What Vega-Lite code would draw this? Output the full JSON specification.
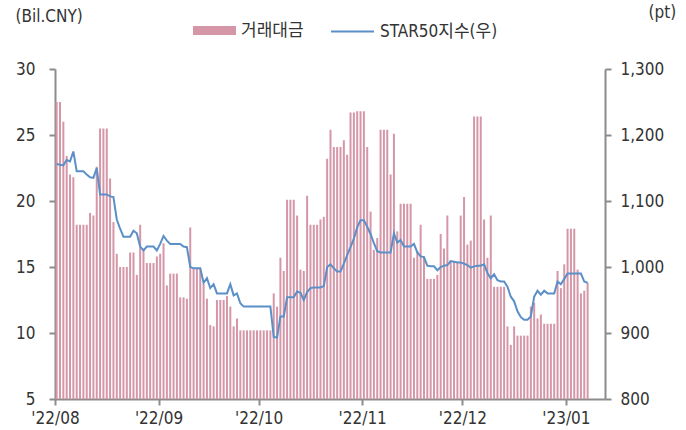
{
"$schema": "https://vega.github.io/schema/vega-lite/v6.json",
"width": 550, "height": 330,
"autosize": {"type": "none"},
"padding": {"left": 55, "top": 69, "right": 81, "bottom": 31},
"background": "white",
"config": {
  "view": {"stroke": null},
  "font": "DejaVu Sans Condensed, Liberation Sans Narrow, Noto Sans CJK KR, sans-serif",
  "axis": {"domainColor": "#8c8c8c", "domainWidth": 2, "tickColor": "#8c8c8c", "tickWidth": 2, "tickSize": 6, "labelColor": "#333333", "labelFontSize": 17, "grid": false, "titleFontWeight": "normal", "titleFontSize": 17, "titleColor": "#333333", "labelFont": "DejaVu Sans Condensed, Liberation Sans Narrow, Noto Sans CJK KR, sans-serif", "titleFont": "DejaVu Sans Condensed, Liberation Sans Narrow, Noto Sans CJK KR, sans-serif"},
  "legend": {"labelFont": "DejaVu Sans Condensed, Liberation Sans Narrow, Noto Sans CJK KR, sans-serif", "labelFontSize": 17, "labelColor": "#333333"}
},
"data": {"values": [
{"d":"2022-08-01T12:00","a":27.5,"s":1156},{"d":"2022-08-02T12:00","a":27.5,"s":1155},{"d":"2022-08-03T12:00","a":26.0,"s":1154},{"d":"2022-08-04T12:00","a":23.4,"s":1162},{"d":"2022-08-05T12:00","a":22.0,"s":1160},{"d":"2022-08-06T12:00","a":21.8,"s":1175},{"d":"2022-08-07T12:00","a":18.2,"s":1145},{"d":"2022-08-08T12:00","a":18.2,"s":1145},{"d":"2022-08-09T12:00","a":18.2,"s":1145},{"d":"2022-08-10T12:00","a":18.2,"s":1140},
{"d":"2022-08-11T12:00","a":19.1,"s":1136},{"d":"2022-08-12T12:00","a":18.9,"s":1135},{"d":"2022-08-13T12:00","a":22.6,"s":1150},{"d":"2022-08-14T12:00","a":25.5,"s":1110},{"d":"2022-08-15T12:00","a":25.5,"s":1110},{"d":"2022-08-16T12:00","a":25.5,"s":1110},{"d":"2022-08-17T12:00","a":21.7,"s":1107},{"d":"2022-08-18T12:00","a":18.4,"s":1106},{"d":"2022-08-19T12:00","a":16.0,"s":1072},{"d":"2022-08-20T12:00","a":15.0,"s":1058},
{"d":"2022-08-21T12:00","a":15.0,"s":1046},{"d":"2022-08-22T12:00","a":15.0,"s":1046},{"d":"2022-08-23T12:00","a":16.1,"s":1046},{"d":"2022-08-24T12:00","a":16.1,"s":1055},{"d":"2022-08-25T12:00","a":14.4,"s":1051},{"d":"2022-08-26T12:00","a":18.2,"s":1031},{"d":"2022-08-27T12:00","a":16.4,"s":1025},{"d":"2022-08-28T12:00","a":15.3,"s":1031},{"d":"2022-08-29T12:00","a":15.3,"s":1031},{"d":"2022-08-30T12:00","a":15.3,"s":1031},
{"d":"2022-08-31T12:00","a":15.8,"s":1025},{"d":"2022-09-01T12:00","a":16.0,"s":1035},{"d":"2022-09-02T12:00","a":16.8,"s":1047},{"d":"2022-09-03T12:00","a":13.6,"s":1040},{"d":"2022-09-04T12:00","a":14.5,"s":1035},{"d":"2022-09-05T12:00","a":14.5,"s":1035},{"d":"2022-09-06T12:00","a":14.5,"s":1035},{"d":"2022-09-07T12:00","a":12.7,"s":1035},{"d":"2022-09-08T12:00","a":12.7,"s":1031},{"d":"2022-09-09T12:00","a":12.6,"s":1030},
{"d":"2022-09-10T12:00","a":18.0,"s":1000},{"d":"2022-09-11T12:00","a":14.9,"s":998},{"d":"2022-09-12T12:00","a":14.9,"s":998},{"d":"2022-09-13T12:00","a":14.9,"s":998},{"d":"2022-09-14T12:00","a":13.7,"s":976},{"d":"2022-09-15T12:00","a":12.6,"s":983},{"d":"2022-09-16T12:00","a":10.6,"s":968},{"d":"2022-09-17T12:00","a":10.5,"s":974},{"d":"2022-09-18T12:00","a":12.5,"s":960},{"d":"2022-09-19T12:00","a":12.5,"s":960},
{"d":"2022-09-20T12:00","a":12.5,"s":960},{"d":"2022-09-21T12:00","a":12.8,"s":960},{"d":"2022-09-22T12:00","a":12.0,"s":974},{"d":"2022-09-23T12:00","a":10.5,"s":957},{"d":"2022-09-24T12:00","a":11.1,"s":960},{"d":"2022-09-25T12:00","a":10.2,"s":945},{"d":"2022-09-26T12:00","a":10.2,"s":940},{"d":"2022-09-27T12:00","a":10.2,"s":940},{"d":"2022-09-28T12:00","a":10.2,"s":940},{"d":"2022-09-29T12:00","a":10.2,"s":940},
{"d":"2022-09-30T12:00","a":10.2,"s":940},{"d":"2022-10-01T12:00","a":10.2,"s":940},{"d":"2022-10-02T12:00","a":10.2,"s":940},{"d":"2022-10-03T12:00","a":10.2,"s":940},{"d":"2022-10-04T12:00","a":10.2,"s":940},{"d":"2022-10-05T12:00","a":13.0,"s":894},{"d":"2022-10-06T12:00","a":12.0,"s":893},{"d":"2022-10-07T12:00","a":15.7,"s":925},{"d":"2022-10-08T12:00","a":14.7,"s":925},{"d":"2022-10-09T12:00","a":20.1,"s":954},
{"d":"2022-10-10T12:00","a":20.1,"s":954},{"d":"2022-10-11T12:00","a":20.1,"s":954},{"d":"2022-10-12T12:00","a":18.9,"s":963},{"d":"2022-10-13T12:00","a":14.8,"s":961},{"d":"2022-10-14T12:00","a":14.7,"s":950},{"d":"2022-10-15T12:00","a":20.4,"s":962},{"d":"2022-10-16T12:00","a":18.2,"s":968},{"d":"2022-10-17T12:00","a":18.2,"s":969},{"d":"2022-10-18T12:00","a":18.2,"s":969},{"d":"2022-10-19T12:00","a":18.6,"s":969},
{"d":"2022-10-20T12:00","a":18.8,"s":971},{"d":"2022-10-21T12:00","a":23.2,"s":1000},{"d":"2022-10-22T12:00","a":25.4,"s":1004},{"d":"2022-10-23T12:00","a":24.1,"s":998},{"d":"2022-10-24T12:00","a":24.1,"s":993},{"d":"2022-10-25T12:00","a":24.1,"s":993},{"d":"2022-10-26T12:00","a":24.6,"s":1005},{"d":"2022-10-27T12:00","a":23.5,"s":1018},{"d":"2022-10-28T12:00","a":26.7,"s":1030},{"d":"2022-10-29T12:00","a":26.7,"s":1043},
{"d":"2022-10-30T12:00","a":26.8,"s":1060},{"d":"2022-10-31T12:00","a":26.8,"s":1071},{"d":"2022-11-01T12:00","a":26.8,"s":1071},{"d":"2022-11-02T12:00","a":24.1,"s":1061},{"d":"2022-11-03T12:00","a":19.2,"s":1050},{"d":"2022-11-04T12:00","a":16.3,"s":1036},{"d":"2022-11-05T12:00","a":17.2,"s":1024},{"d":"2022-11-06T12:00","a":25.4,"s":1022},{"d":"2022-11-07T12:00","a":25.4,"s":1022},{"d":"2022-11-08T12:00","a":25.4,"s":1022},
{"d":"2022-11-09T12:00","a":22.0,"s":1022},{"d":"2022-11-10T12:00","a":25.1,"s":1051},{"d":"2022-11-11T12:00","a":17.7,"s":1037},{"d":"2022-11-12T12:00","a":19.8,"s":1041},{"d":"2022-11-13T12:00","a":19.8,"s":1031},{"d":"2022-11-14T12:00","a":19.8,"s":1031},{"d":"2022-11-15T12:00","a":19.8,"s":1031},{"d":"2022-11-16T12:00","a":15.7,"s":1035},{"d":"2022-11-17T12:00","a":16.2,"s":1022},{"d":"2022-11-18T12:00","a":18.2,"s":1016},
{"d":"2022-11-19T12:00","a":15.8,"s":1015},{"d":"2022-11-20T12:00","a":14.1,"s":1002},{"d":"2022-11-21T12:00","a":14.1,"s":1001},{"d":"2022-11-22T12:00","a":14.1,"s":1001},{"d":"2022-11-23T12:00","a":14.4,"s":995},{"d":"2022-11-24T12:00","a":17.5,"s":1000},{"d":"2022-11-25T12:00","a":16.4,"s":1002},{"d":"2022-11-26T12:00","a":18.9,"s":1003},{"d":"2022-11-27T12:00","a":15.4,"s":1009},{"d":"2022-11-28T12:00","a":15.4,"s":1008},
{"d":"2022-11-29T12:00","a":15.4,"s":1007},{"d":"2022-11-30T12:00","a":18.9,"s":1007},{"d":"2022-12-01T12:00","a":20.3,"s":1005},{"d":"2022-12-02T12:00","a":16.7,"s":1003},{"d":"2022-12-03T12:00","a":17.0,"s":999},{"d":"2022-12-04T12:00","a":26.4,"s":1001},{"d":"2022-12-05T12:00","a":26.4,"s":1002},{"d":"2022-12-06T12:00","a":26.4,"s":1002},{"d":"2022-12-07T12:00","a":18.6,"s":1004},{"d":"2022-12-08T12:00","a":15.7,"s":991},
{"d":"2022-12-09T12:00","a":18.9,"s":983},{"d":"2022-12-10T12:00","a":13.5,"s":989},{"d":"2022-12-11T12:00","a":13.5,"s":980},{"d":"2022-12-12T12:00","a":13.5,"s":978},{"d":"2022-12-13T12:00","a":13.5,"s":978},{"d":"2022-12-14T12:00","a":10.5,"s":970},{"d":"2022-12-15T12:00","a":9.1,"s":955},{"d":"2022-12-16T12:00","a":10.5,"s":948},{"d":"2022-12-17T12:00","a":9.8,"s":933},{"d":"2022-12-18T12:00","a":9.8,"s":924},
{"d":"2022-12-19T12:00","a":9.8,"s":920},{"d":"2022-12-20T12:00","a":9.8,"s":920},{"d":"2022-12-21T12:00","a":12.0,"s":925},{"d":"2022-12-22T12:00","a":12.3,"s":955},{"d":"2022-12-23T12:00","a":11.1,"s":964},{"d":"2022-12-24T12:00","a":11.4,"s":958},{"d":"2022-12-25T12:00","a":10.7,"s":964},{"d":"2022-12-26T12:00","a":10.7,"s":960},{"d":"2022-12-27T12:00","a":10.7,"s":960},{"d":"2022-12-28T12:00","a":10.7,"s":960},
{"d":"2022-12-29T12:00","a":14.7,"s":978},{"d":"2022-12-30T12:00","a":13.4,"s":974},{"d":"2022-12-31T12:00","a":15.2,"s":982},{"d":"2023-01-01T12:00","a":17.9,"s":990},{"d":"2023-01-02T12:00","a":17.9,"s":990},{"d":"2023-01-03T12:00","a":17.9,"s":990},{"d":"2023-01-04T12:00","a":14.8,"s":990},{"d":"2023-01-05T12:00","a":13.0,"s":990},{"d":"2023-01-06T12:00","a":13.2,"s":978},{"d":"2023-01-07T12:00","a":13.8,"s":976}
]},
"encoding": {
  "x": {"field": "d", "type": "temporal",
    "scale": {"padding": 0, "domain": [{"year": 2022, "month": 8, "date": 1}, {"year": 2023, "month": 1, "date": 12, "hours": 17}]},
    "axis": {"title": null, "format": "'%y/%m", "labelPadding": 5, "labelFlush": false, "labelOverlap": false,
      "values": [{"year": 2022, "month": 8, "date": 1}, {"year": 2022, "month": 9, "date": 1}, {"year": 2022, "month": 10, "date": 1}, {"year": 2022, "month": 11, "date": 1}, {"year": 2022, "month": 12, "date": 1}, {"year": 2023, "month": 1, "date": 1}]}}
},
"layer": [
  {"mark": {"type": "bar", "size": 2, "clip": true},
   "encoding": {
     "y": {"field": "a", "type": "quantitative", "scale": {"domain": [5, 30], "zero": false, "nice": false},
       "axis": {"values": [5, 10, 15, 20, 25, 30], "labelPadding": 14, "title": "(Bil.CNY)", "titleAngle": 0, "titleAlign": "left", "titleBaseline": "middle", "titleX": -40, "titleY": -53}},
     "color": {"datum": "거래대금", "scale": {"range": ["#d596a8"]},
       "legend": {"orient": "none", "legendX": 138, "legendY": -60, "padding": 0, "title": null, "symbolType": "M-1,-0.21H1V0.21H-1Z", "symbolSize": 1849, "symbolStrokeWidth": 0, "symbolOpacity": 1, "labelOffset": 5}}
   }},
  {"mark": {"type": "line", "strokeWidth": 2},
   "encoding": {
     "y": {"field": "s", "type": "quantitative", "scale": {"domain": [800, 1300], "zero": false, "nice": false},
       "axis": {"orient": "right", "values": [800, 900, 1000, 1100, 1200, 1300], "format": ",.0f", "labelPadding": 9, "title": "(pt)", "titleAngle": 0, "titleAlign": "left", "titleBaseline": "middle", "titleX": 43, "titleY": -57}},
     "stroke": {"datum": "STAR50지수(우)", "scale": {"range": ["#5b8fc7"]},
       "legend": {"orient": "none", "legendX": 275, "legendY": -60, "padding": 0, "title": null, "symbolType": "stroke", "symbolSize": 1849, "symbolStrokeWidth": 2, "labelOffset": 5}}
   }}
],
"resolve": {"scale": {"y": "independent"}}
}
